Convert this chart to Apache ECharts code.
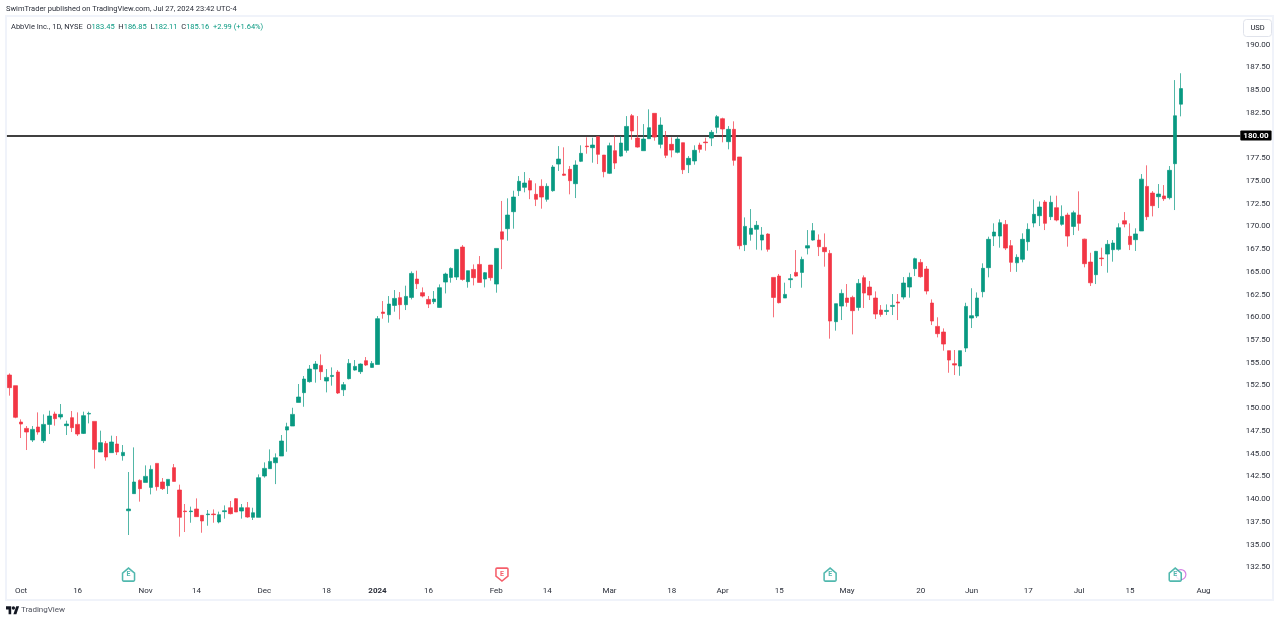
<!DOCTYPE html>
<html>
<head>
<meta charset="utf-8">
<title>AbbVie Inc., 1D, NYSE</title>
<script src="https://cdn.jsdelivr.net/npm/echarts@6/dist/echarts.min.js"></script>
<style>
    html, body { margin: 0; padding: 0; background: #fff; }
    #chart { width: 1280px; height: 622px; }
</style>
</head>
<body>
<div id="chart"></div>
<script>
// trading days, the last ten are empty room on the right of the chart
const dates = [
    "2023-09-28", "2023-09-29",
    "2023-10-02", "2023-10-03", "2023-10-04", "2023-10-05", "2023-10-06", "2023-10-09", "2023-10-10", "2023-10-11", "2023-10-12", "2023-10-13", "2023-10-16",
    "2023-10-17", "2023-10-18", "2023-10-19", "2023-10-20", "2023-10-23", "2023-10-24", "2023-10-25", "2023-10-26", "2023-10-27", "2023-10-30", "2023-10-31",
    "2023-11-01", "2023-11-02", "2023-11-03", "2023-11-06", "2023-11-07", "2023-11-08", "2023-11-09", "2023-11-10", "2023-11-13", "2023-11-14", "2023-11-15",
    "2023-11-16", "2023-11-17", "2023-11-20", "2023-11-21", "2023-11-22", "2023-11-24", "2023-11-27", "2023-11-28", "2023-11-29", "2023-11-30",
    "2023-12-01", "2023-12-04", "2023-12-05", "2023-12-06", "2023-12-07", "2023-12-08", "2023-12-11", "2023-12-12", "2023-12-13", "2023-12-14", "2023-12-15",
    "2023-12-18", "2023-12-19", "2023-12-20", "2023-12-21", "2023-12-22", "2023-12-26", "2023-12-27", "2023-12-28", "2023-12-29",
    "2024-01-02", "2024-01-03", "2024-01-04", "2024-01-05", "2024-01-08", "2024-01-09", "2024-01-10", "2024-01-11", "2024-01-12", "2024-01-16", "2024-01-17",
    "2024-01-18", "2024-01-19", "2024-01-22", "2024-01-23", "2024-01-24", "2024-01-25", "2024-01-26", "2024-01-29", "2024-01-30", "2024-01-31",
    "2024-02-01", "2024-02-02", "2024-02-05", "2024-02-06", "2024-02-07", "2024-02-08", "2024-02-09", "2024-02-12", "2024-02-13", "2024-02-14", "2024-02-15",
    "2024-02-16", "2024-02-20", "2024-02-21", "2024-02-22", "2024-02-23", "2024-02-26", "2024-02-27", "2024-02-28", "2024-02-29",
    "2024-03-01", "2024-03-04", "2024-03-05", "2024-03-06", "2024-03-07", "2024-03-08", "2024-03-11", "2024-03-12", "2024-03-13", "2024-03-14", "2024-03-15",
    "2024-03-18", "2024-03-19", "2024-03-20", "2024-03-21", "2024-03-22", "2024-03-25", "2024-03-26", "2024-03-27", "2024-03-28",
    "2024-04-01", "2024-04-02", "2024-04-03", "2024-04-04", "2024-04-05", "2024-04-08", "2024-04-09", "2024-04-10", "2024-04-11", "2024-04-12", "2024-04-15",
    "2024-04-16", "2024-04-17", "2024-04-18", "2024-04-19", "2024-04-22", "2024-04-23", "2024-04-24", "2024-04-25", "2024-04-26", "2024-04-29", "2024-04-30",
    "2024-05-01", "2024-05-02", "2024-05-03", "2024-05-06", "2024-05-07", "2024-05-08", "2024-05-09", "2024-05-10", "2024-05-13", "2024-05-14", "2024-05-15",
    "2024-05-16", "2024-05-17", "2024-05-20", "2024-05-21", "2024-05-22", "2024-05-23", "2024-05-24", "2024-05-28", "2024-05-29", "2024-05-30", "2024-05-31",
    "2024-06-03", "2024-06-04", "2024-06-05", "2024-06-06", "2024-06-07", "2024-06-10", "2024-06-11", "2024-06-12", "2024-06-13", "2024-06-14", "2024-06-17",
    "2024-06-18", "2024-06-20", "2024-06-21", "2024-06-24", "2024-06-25", "2024-06-26", "2024-06-27", "2024-06-28",
    "2024-07-01", "2024-07-02", "2024-07-03", "2024-07-05", "2024-07-08", "2024-07-09", "2024-07-10", "2024-07-11", "2024-07-12", "2024-07-15", "2024-07-16",
    "2024-07-17", "2024-07-18", "2024-07-19", "2024-07-22", "2024-07-23", "2024-07-24", "2024-07-25", "2024-07-26",
    "2024-07-29", "2024-07-30", "2024-07-31", "2024-08-01", "2024-08-02", "2024-08-05", "2024-08-06", "2024-08-07", "2024-08-08", "2024-08-09"
];

const opens = [
    153.65, 152.48, 148.48, 147.78, 146.5, 147.93, 146.43, 148.22, 149.36, 149.03,
    148.08, 148.96, 148.22, 147.23, 149.36, 148.55, 145.18, 146.13, 145.11, 146.06,
    144.78, 138.72, 140.6, 142.06, 141.84, 141.29, 143.93, 141.88, 141.48, 143.46,
    141.0, 138.69, 138.62, 138.91, 138.21, 138.29, 138.36, 137.48, 138.62, 139.05,
    140.05, 138.69, 139.05, 137.99, 137.99, 142.54, 143.35, 144.0, 144.74, 147.6,
    148.04, 150.64, 151.71, 152.92, 154.31, 154.71, 152.99, 153.5, 153.98, 152.03,
    153.25, 154.2, 154.02, 155.23, 154.49, 154.82, 160.58, 160.29, 161.31, 162.16,
    161.39, 162.19, 164.21, 162.71, 161.97, 161.72, 161.09, 163.88, 164.39, 164.43,
    167.73, 163.92, 165.27, 165.82, 164.21, 165.75, 163.66, 169.4, 169.75, 171.62,
    173.93, 174.3, 175.03, 173.53, 174.41, 172.98, 173.93, 176.86, 175.76, 176.28,
    174.7, 177.16, 178.84, 178.66, 179.87, 177.85, 175.84, 178.33, 177.74, 178.37,
    182.18, 179.72, 178.33, 179.65, 182.44, 179.03, 179.83, 179.03, 178.15, 179.21,
    176.79, 177.2, 178.95, 179.28, 179.72, 180.9, 181.85, 179.32, 180.68, 177.64,
    167.99, 169.13, 169.68, 168.5, 169.16, 164.39, 164.54, 162.12, 164.14, 164.94,
    164.94, 167.62, 168.5, 168.5, 167.69, 167.03, 159.52, 161.24, 162.12, 162.19,
    161.09, 164.36, 163.33, 162.12, 160.8, 160.65, 161.2, 161.68, 162.23, 163.33,
    165.35, 166.04, 165.31, 161.57, 159.0, 158.38, 156.33, 154.9, 154.64, 156.62,
    159.92, 160.14, 162.82, 165.46, 168.94, 168.94, 170.22, 167.88, 166.0, 166.38,
    168.32, 170.37, 171.18, 172.68, 171.07, 172.06, 170.23, 171.25, 170.0, 171.25,
    168.6, 166.08, 164.69, 166.52, 166.96, 167.44, 167.48, 170.63, 168.91, 168.54,
    169.5, 174.4, 173.67, 173.27, 173.35, 173.16, 176.9, 183.45
];

const closes = [
    152.26, 149.0, 148.26, 147.38, 147.67, 147.38, 148.22, 149.14, 148.85, 149.32,
    148.26, 147.86, 147.16, 149.18, 149.43, 145.47, 146.21, 144.63, 146.28, 145.18,
    145.14, 138.91, 141.88, 141.15, 142.5, 143.27, 141.37, 141.15, 142.17, 141.95,
    138.0, 138.62, 138.69, 138.07, 137.59, 138.36, 138.29, 138.29, 138.72, 138.4,
    138.58, 139.05, 138.03, 138.5, 142.36, 143.38, 144.15, 144.55, 146.39, 147.96,
    149.32, 151.23, 153.21, 154.31, 154.86, 154.02, 153.39, 153.61, 151.67, 152.59,
    154.93, 154.6, 154.86, 154.75, 154.93, 159.85, 160.43, 161.46, 162.08, 161.39,
    162.3, 164.83, 163.7, 162.34, 161.46, 162.01, 163.26, 164.76, 165.38, 167.47,
    164.17, 165.13, 164.36, 163.84, 164.91, 164.36, 167.58, 168.6, 171.25, 173.23,
    174.96, 174.77, 174.0, 172.98, 173.23, 174.41, 176.53, 177.41, 175.62, 175.03,
    176.75, 178.04, 178.77, 178.95, 177.93, 176.02, 178.88, 176.97, 179.17, 181.0,
    180.5, 178.73, 179.61, 180.86, 179.83, 181.15, 177.82, 178.4, 179.61, 176.24,
    177.49, 178.37, 178.48, 179.21, 180.35, 182.07, 180.72, 180.68, 177.27, 167.88,
    170.0, 169.79, 170.12, 169.06, 167.48, 162.19, 161.61, 162.52, 164.25, 164.54,
    166.37, 167.88, 169.53, 167.77, 167.22, 159.59, 161.5, 162.63, 161.64, 160.73,
    163.73, 162.67, 162.45, 160.36, 160.32, 160.76, 161.31, 161.57, 163.77, 164.39,
    166.45, 164.47, 162.89, 159.59, 158.2, 157.06, 155.3, 154.75, 156.33, 161.2,
    160.18, 162.12, 165.39, 168.58, 169.38, 170.41, 167.62, 166.05, 166.6, 168.58,
    169.68, 171.33, 172.13, 170.34, 172.65, 170.7, 171.1, 168.94, 171.5, 170.34,
    165.9, 163.8, 167.26, 166.45, 168.03, 168.17, 169.86, 170.26, 168.0, 169.17,
    175.2, 171.07, 172.28, 173.56, 173.05, 176.17, 182.17, 185.16
];

const lows = [
    151.38, 148.9, 146.72, 145.4, 146.28, 147.09, 146.17, 147.16, 148.08, 148.77,
    147.05, 147.38, 146.94, 147.16, 148.33, 143.35, 145.18, 144.23, 145.11, 144.85,
    144.23, 136.05, 140.6, 139.72, 141.84, 140.52, 140.93, 141.0, 140.56, 141.95,
    135.87, 136.38, 137.4, 138.07, 136.3, 137.07, 137.4, 137.33, 137.85, 138.32,
    138.58, 137.85, 137.95, 137.7, 137.99, 142.36, 143.35, 141.65, 144.74, 145.21,
    148.04, 150.64, 150.16, 152.81, 152.81, 153.1, 151.74, 152.48, 151.56, 151.34,
    153.17, 154.13, 153.76, 154.64, 154.46, 154.82, 159.85, 159.41, 160.62, 159.77,
    160.8, 161.97, 163.11, 162.19, 161.02, 161.46, 161.06, 162.63, 163.81, 164.1,
    164.03, 163.26, 163.51, 163.84, 163.29, 164.03, 162.71, 165.3, 168.43, 169.75,
    173.34, 173.75, 173.0, 172.24, 171.95, 172.72, 173.82, 176.1, 175.54, 173.53,
    173.12, 177.08, 178.0, 177.01, 176.86, 175.4, 175.76, 176.31, 177.67, 178.11,
    179.54, 178.66, 178.33, 179.65, 179.43, 178.59, 177.52, 177.6, 178.04, 175.76,
    175.87, 176.79, 178.11, 178.33, 178.84, 180.24, 179.25, 178.48, 176.68, 167.48,
    167.29, 168.43, 167.44, 167.37, 167.22, 160.0, 161.53, 162.12, 163.22, 164.47,
    163.26, 166.92, 168.43, 166.74, 165.57, 157.65, 158.53, 159.7, 161.17, 158.12,
    160.73, 161.02, 161.9, 159.81, 160.07, 160.25, 160.25, 159.7, 161.97, 162.16,
    164.54, 164.36, 162.52, 159.15, 157.79, 156.33, 153.9, 153.65, 153.57, 156.18,
    158.82, 159.92, 162.2, 164.4, 167.84, 167.66, 167.4, 165.0, 165.0, 166.05,
    167.33, 169.9, 170.04, 169.6, 170.7, 170.56, 170.08, 167.77, 169.05, 169.53,
    165.5, 163.44, 163.66, 165.64, 164.91, 166.12, 167.33, 169.9, 167.4, 167.3,
    169.5, 170.7, 171.1, 172.02, 172.8, 172.97, 171.8, 182.11
];

const highs = [
    153.83, 152.48, 148.77, 148.04, 148.04, 149.54, 149.32, 149.73, 149.62, 150.46,
    148.63, 149.69, 149.54, 149.62, 149.62, 148.55, 147.53, 146.39, 146.98, 146.94,
    145.95, 142.98, 145.69, 142.17, 143.71, 143.71, 143.93, 142.32, 142.17, 143.86,
    141.59, 139.46, 139.17, 140.08, 138.21, 138.8, 138.87, 138.62, 139.31, 139.79,
    140.12, 139.46, 139.68, 139.05, 142.72, 144.04, 145.47, 145.03, 147.05, 148.4,
    150.05, 152.66, 153.54, 154.75, 155.19, 155.92, 154.31, 154.49, 154.2, 152.88,
    155.41, 155.3, 154.93, 155.63, 155.19, 160.14, 161.79, 162.34, 163.0, 162.78,
    163.48, 165.05, 165.13, 163.29, 162.34, 162.89, 163.62, 164.91, 165.49, 167.47,
    167.95, 165.13, 165.82, 166.74, 164.98, 165.75, 167.58, 172.8, 173.09, 173.93,
    175.54, 175.98, 175.32, 174.74, 175.18, 174.74, 176.75, 178.84, 178.7, 176.64,
    177.27, 178.92, 179.8, 179.76, 179.87, 177.85, 179.21, 179.98, 179.94, 182.14,
    182.37, 182.14, 181.26, 182.88, 182.44, 182.0, 180.5, 179.8, 179.87, 179.21,
    177.74, 178.92, 179.21, 179.76, 180.6, 182.25, 181.96, 181.04, 181.56, 177.64,
    170.99, 171.91, 170.6, 169.93, 169.24, 164.39, 164.76, 163.81, 164.76, 167.4,
    166.67, 169.6, 170.37, 169.12, 169.23, 167.4, 161.5, 163.07, 163.66, 162.38,
    164.21, 164.61, 163.99, 162.85, 161.35, 161.42, 162.56, 162.56, 164.43, 164.91,
    166.56, 166.41, 165.64, 161.97, 160.0, 158.78, 156.33, 156.4, 156.33, 161.6,
    163.2, 162.74, 165.94, 168.87, 170.34, 170.78, 170.7, 168.5, 166.93, 169.24,
    170.34, 172.97, 172.75, 172.9, 173.38, 173.38, 172.32, 171.5, 171.73, 173.86,
    168.65, 167.1, 167.3, 167.66, 168.5, 168.5, 170.34, 171.58, 170.34, 169.79,
    175.76, 176.72, 173.89, 174.66, 174.55, 176.64, 186.1, 186.85
];

const timeTickDates = ["2023-10-02", "2023-10-16", "2023-11-01", "2023-11-14", "2023-12-01", "2023-12-18", "2024-01-02", "2024-01-16", "2024-02-01", "2024-02-14", "2024-03-01",
    "2024-03-18", "2024-04-01", "2024-04-15", "2024-05-01", "2024-05-20", "2024-06-03", "2024-06-17", "2024-07-01", "2024-07-15", "2024-08-01"];
const timeTickLabels = ["Oct", "16", "Nov", "14", "Dec", "18", "2024", "16", "Feb", "14", "Mar",
    "18", "Apr", "15", "May", "20", "Jun", "17", "Jul", "15", "Aug"];

// 180.00 is left out, the level line carries that label
const priceTicks = [132.5, 135, 137.5, 140, 142.5, 145, 147.5, 150, 152.5, 155, 157.5, 160, 162.5, 165, 167.5, 170, 172.5, 175, 177.5, 182.5, 185, 187.5, 190];
const levelPrice = 180;

const earningsBeat = ["2023-10-27", "2024-04-26", "2024-07-25"];
const earningsMiss = ["2024-02-02"];
const dividends = ["2024-07-26"];
const eventRow = 131.7;

const GREEN = "#089981";
const RED = "#F23645";
const FONT = "Roboto, 'Liberation Sans', sans-serif";

const chart = echarts.init(document.getElementById("chart"));

function eventSeries(name, days, path, color, z) {
    return {
        name: name,
        type: "scatter",
        data: days.map(d => [d, eventRow]),
        symbol: path,
        symbolSize: [12, 13],
        clip: false,
        z: z,
        silent: true,
        itemStyle: { color: "#fff", borderColor: color, borderWidth: 1.6 },
        label: { show: true, position: "inside", formatter: "E", color: color, fontSize: 7, fontFamily: FONT, fontWeight: "bold" }
    };
}

const option = {
    animation: false,
    backgroundColor: "#fff",
    textStyle: { fontFamily: FONT },
    title: [
        {
            text: "SwimTrader published on TradingView.com, Jul 27, 2024 23:42 UTC-4",
            left: 6, top: 5, padding: 0,
            textStyle: { fontSize: 7.5, fontWeight: "normal", color: "#2a2e39", fontFamily: FONT }
        },
        {
            text: "AbbVie Inc., 1D, NYSE  O{g|183.45}  H{g|186.85}  L{g|182.11}  C{g|185.16}  {g|+2.99 (+1.64%)}",
            left: 11, top: 23, padding: 0,
            textStyle: {
                fontSize: 7.5, fontWeight: "normal", color: "#2a2e39", fontFamily: FONT,
                rich: { g: { color: GREEN, fontSize: 7.5, fontFamily: FONT } }
            }
        },
        {
            text: "TradingView",
            left: 21, top: 606, padding: 0,
            textStyle: { fontSize: 8, fontWeight: "normal", color: "#50535e", fontFamily: FONT }
        }
    ],
    graphic: [
        { type: "rect", silent: true, z: -1, shape: { x: 6, y: 16, width: 1267, height: 584 }, style: { fill: "none", stroke: "#f0f3fa", lineWidth: 2 } },
        { type: "rect", silent: true, shape: { x: 1243.5, y: 19.5, width: 28, height: 17, r: 3 }, style: { fill: "#fff", stroke: "#e0e3eb", lineWidth: 1 } },
        { type: "text", silent: true, style: { x: 1257.5, y: 28, text: "USD", fill: "#131722", font: "7.5px " + FONT, textAlign: "center", textVerticalAlign: "middle" } },
        // TradingView logo
        { type: "polygon", silent: true, shape: { points: [[6, 606.3], [11.2, 606.3], [11.2, 614.3], [8.6, 614.3], [8.6, 609.4], [6, 609.4]] }, style: { fill: "#131722" } },
        { type: "polygon", silent: true, shape: { points: [[13.4, 614.3], [16.4, 614.3], [19.1, 606.3], [16.2, 606.3]] }, style: { fill: "#131722" } },
        { type: "circle", silent: true, shape: { cx: 13.4, cy: 608, r: 1.7 }, style: { fill: "#131722" } }
    ],
    grid: { left: 6.9, top: 21.9, width: 1233.4, height: 568.1, containLabel: false },
    xAxis: {
        type: "category",
        data: dates,
        boundaryGap: true,
        axisLine: { show: false },
        axisTick: { show: false },
        splitLine: { show: false },
        axisLabel: {
            interval: (index, value) => timeTickDates.includes(value),
            hideOverlap: false,
            margin: -3,
            color: "#2a2e39",
            fontSize: 8,
            fontFamily: FONT,
            formatter: value => {
                const label = timeTickLabels[timeTickDates.indexOf(value)];
                return label === "2024" ? "{year|2024}" : label;
            },
            rich: { year: { fontWeight: "bold", fontSize: 8, color: "#2a2e39", fontFamily: FONT } }
        }
    },
    yAxis: {
        type: "value",
        position: "right",
        min: 130,
        max: 192.5,
        interval: 2.5,
        axisLine: { show: false },
        axisTick: { show: false },
        splitLine: { show: false },
        axisLabel: {
            customValues: priceTicks,
            align: "right",
            margin: 30,
            padding: [2, 0, 0, 0],
            color: "#2a2e39",
            fontSize: 8,
            fontFamily: FONT,
            formatter: value => value.toFixed(2)
        }
    },
    series: [
        {
            name: "ABBV",
            type: "candlestick",
            barWidth: 4,
            z: 3,
            data: opens.map((o, i) => [o, closes[i], lows[i], highs[i]]),
            itemStyle: {
                color: GREEN,
                color0: RED,
                borderColor: "rgba(8,153,129,0.7)",
                borderColor0: "rgba(242,54,69,0.7)",
                borderWidth: 1
            },
            markLine: {
                silent: true,
                symbol: "none",
                z: 1,
                data: [{ yAxis: levelPrice }],
                lineStyle: { color: "#000", width: 1.5, type: "solid" },
                label: {
                    show: true,
                    position: "end",
                    distance: 0,
                    formatter: "180.00",
                    color: "#fff",
                    fontSize: 8,
                    fontWeight: "bold",
                    fontFamily: FONT,
                    backgroundColor: "#000",
                    borderRadius: 1,
                    padding: [1, 3]
                }
            }
        },
        {
            name: "Dividend",
            type: "scatter",
            data: dividends.map(d => [d, eventRow]),
            symbol: "circle",
            symbolSize: 10,
            clip: false,
            z: 4,
            silent: true,
            itemStyle: { color: "#fff", borderColor: "#c95fdc", borderWidth: 1.2 }
        },
        eventSeries("Earnings", earningsBeat, "path://M0 5L6 0L12 5V12Q12 13 11 13H1Q0 13 0 12Z", "#26a69a", 5),
        eventSeries("Earnings miss", earningsMiss, "path://M1 0H11Q12 0 12 1V8L6 13L0 8V1Q0 0 1 0Z", "#F23645", 5)
    ]
};

chart.setOption(option);
</script>
</body>
</html>
